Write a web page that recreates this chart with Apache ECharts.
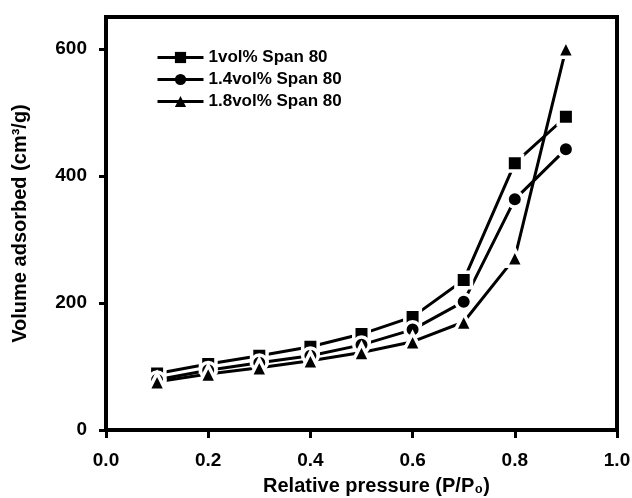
<!DOCTYPE html>
<html>
<head>
<meta charset="utf-8">
<script src="https://cdn.jsdelivr.net/npm/echarts@6/dist/echarts.min.js"></script>
<style>html,body{margin:0;padding:0;background:#fff}#c{width:632px;height:498px}</style>
</head>
<body>
<div id="c"></div>
<script>
var pressure = [0.1, 0.2, 0.3, 0.4, 0.5, 0.6, 0.7, 0.8, 0.9];
var span1_0 = [89, 104, 117, 131, 151, 178, 236, 420, 493];
var span1_4 = [79, 94, 106, 117, 134, 158, 202, 363, 442];
var span1_8 = [76, 88, 98, 109, 122, 139, 170, 271, 600];
var seriesNames = ['1vol% Span 80', '1.4vol% Span 80', '1.8vol% Span 80'];
var yTicks = [0, 200, 400, 600];

function pairs(xs, ys) { return xs.map(function (x, i) { return [x, ys[i]]; }); }

var FONT = '"Liberation Sans", Arial, sans-serif';
var chart = echarts.init(document.getElementById('c'), null, {renderer: 'canvas'});

function mkSeries(name, data, symbol) {
  return {
    name: name,
    type: 'line',
    data: pairs(pressure, data),
    symbol: symbol,
    symbolSize: symbol === 'triangle' ? 17 : 15.5,
    lineStyle: {color: '#000', width: 3},
    itemStyle: {color: '#000', borderColor: '#fff', borderWidth: 3.5},
    emphasis: {disabled: true},
    animation: false
  };
}

chart.setOption({
  animation: false,
  backgroundColor: '#fff',
  grid: {left: 106, right: 15, top: 17, bottom: 68, outerBoundsMode: 'none', containLabel: false,
    show: true, borderColor: '#000', borderWidth: 4, backgroundColor: 'transparent'},
  legend: {
    orient: 'vertical',
    left: 156,
    top: 49,
    padding: 0,
    itemWidth: 46,
    itemHeight: 14,
    itemGap: 5,
    itemStyle: {borderWidth: 0},
    lineStyle: {width: 3, color: '#000'},
    textStyle: {fontFamily: FONT, fontWeight: 'bold', fontSize: 17, color: '#000'},
    data: seriesNames
  },
  xAxis: {
    type: 'value',
    min: 0, max: 1, interval: 0.2,
    name: 'Relative pressure (P/P\u2080)',
    nameLocation: 'middle',
    nameGap: 46,
    nameTextStyle: {fontFamily: FONT, fontWeight: 'bold', fontSize: 20, color: '#000', padding: [0, 0, 0, 30]},
    axisLine: {lineStyle: {color: '#000', width: 4}},
    axisTick: {length: 8, lineStyle: {color: '#000', width: 3}},
    splitLine: {show: false},
    axisLabel: {fontFamily: FONT, fontWeight: 'bold', fontSize: 19, color: '#000', margin: 21,
      formatter: function (v) { return v.toFixed(1); }}
  },
  yAxis: {
    type: 'value',
    min: 0, max: 650, interval: 200,
    name: 'Volume adsorbed (cm\u00b3/g)',
    nameLocation: 'middle',
    nameGap: 76,
    nameTextStyle: {fontFamily: FONT, fontWeight: 'bold', fontSize: 20, color: '#000'},
    axisLine: {lineStyle: {color: '#000', width: 4}},
    axisTick: {length: 7, lineStyle: {color: '#000', width: 3}, customValues: yTicks},
    splitLine: {show: false},
    axisLabel: {fontFamily: FONT, fontWeight: 'bold', fontSize: 19, color: '#000', margin: 19, customValues: yTicks}
  },
  series: [
    mkSeries(seriesNames[0], span1_0, 'rect'),
    mkSeries(seriesNames[1], span1_4, 'circle'),
    mkSeries(seriesNames[2], span1_8, 'triangle')
  ]
});
</script>
</body>
</html>
